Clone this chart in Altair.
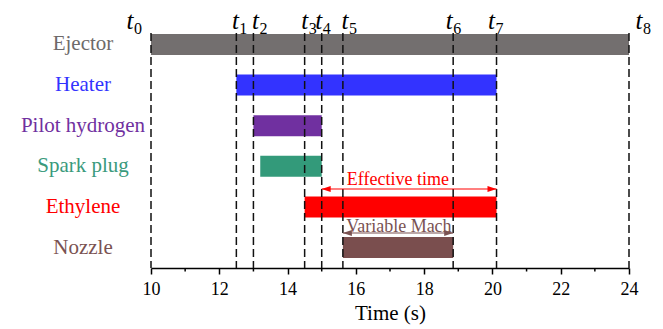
import altair as alt
import pandas as pd

# ---------------- data ----------------
categories = ["Ejector", "Heater", "Pilot hydrogen", "Spark plug", "Ethylene", "Nozzle"]
starts = [10.0, 12.5, 13.0, 13.2, 14.5, 15.62]
ends = [24.0, 20.12, 15.0, 15.0, 20.12, 18.85]
bar_colors = ["#736f6f", "#3333ff", "#7030a0", "#339a7a", "#ff0000", "#7a4e4e"]
label_colors = ["#6e6a6a", "#3333ff", "#7030a0", "#3a9a7c", "#ff0000", "#7a5252"]

t_subs = ["0", "1", "2", "3", "4", "5", "6", "7", "8"]
t_values = [10.0, 12.5, 13.0, 14.5, 15.0, 15.62, 18.85, 20.12, 24.0]

major_ticks = [10, 12, 14, 16, 18, 20, 22, 24]
minor_ticks = [11, 13, 15, 17, 19, 21, 23]

annot_labels = ["Effective time", "Variable Mach"]
annot_from = [15.0, 15.62]
annot_to = [20.12, 18.85]
annot_text_x = [17.23, 17.26]
annot_colors = ["#ff0000", "#7a5252"]

# ---------------- styles (pixels) ----------------
t_dx = [-21, -1, 2, 0, -3, 2, -4, -5, 10]
annot_text_y = [161, 208]
annot_arrow_y = [165, 209]
FONT = "Liberation Serif, Times New Roman, serif"

x_scale = alt.Scale(domain=[10, 24], nice=False, zero=False)
y_scale = alt.Scale(domain=categories, paddingInner=0.483, paddingOuter=0.246)
x_axis = alt.Axis(values=major_ticks, title="Time (s)", grid=False,
                  domainColor="black", domainWidth=1.5,
                  tickColor="black", tickWidth=1.5, tickSize=6,
                  labelFont=FONT, labelFontSize=18, labelColor="black",
                  labelPadding=6, labelFlush=False,
                  titleFont=FONT, titleFontSize=21, titleFontWeight="normal",
                  titleColor="black", titlePadding=4)


def X(field):
    return alt.X(field, scale=x_scale, axis=x_axis, title="Time (s)")


bars_df = pd.DataFrame({"cat": categories, "start": starts, "end": ends,
                        "bcol": bar_colors, "lcol": label_colors})

bars = alt.Chart(bars_df).mark_bar(opacity=1).encode(
    x=X("start:Q"),
    x2="end:Q",
    y=alt.Y("cat:N", scale=y_scale, axis=None, sort=categories),
    color=alt.Color("bcol:N", scale=None),
)

cat_labels = alt.Chart(bars_df).mark_text(
    font=FONT, fontSize=21, align="center", baseline="middle"
).encode(
    x=alt.value(-68),
    y=alt.Y("cat:N", scale=y_scale, axis=None, sort=categories),
    text="cat:N",
    color=alt.Color("lcol:N", scale=None),
)

t_df = pd.DataFrame({"x": t_values, "sub": t_subs})

vlines = alt.Chart(t_df).mark_rule(
    color="#111111", strokeWidth=1.5, strokeDash=[8, 4]
).encode(
    x=X("x:Q"),
    y=alt.value(9),
    y2=alt.value(244),
)

minor_df = pd.DataFrame({"x": minor_ticks})
minor = alt.Chart(minor_df).mark_rule(color="black", strokeWidth=1.5).encode(
    x=X("x:Q"),
    y=alt.value(244),
    y2=alt.value(247.5),
)

layers = [bars, vlines, minor, cat_labels]

for i in range(len(t_values)):
    row = t_df.iloc[[i]]
    layers.append(alt.Chart(row).mark_text(
        font=FONT, fontSize=25, fontStyle="italic", align="center",
        baseline="alphabetic", dx=t_dx[i], color="black"
    ).encode(x=X("x:Q"), y=alt.value(5), text=alt.value("t")))
    layers.append(alt.Chart(row).mark_text(
        font=FONT, fontSize=16, align="left", baseline="alphabetic",
        dx=t_dx[i] + 4, color="black"
    ).encode(x=X("x:Q"), y=alt.value(9.5), text="sub:N"))

left_head = "M0,0L1,-0.33L1,0.33Z"
right_head = "M0,0L-1,-0.33L-1,0.33Z"

for i in range(len(annot_labels)):
    a_df = pd.DataFrame({"x": [annot_from[i]], "x2": [annot_to[i]],
                         "tx": [annot_text_x[i]], "label": [annot_labels[i]]})
    col = annot_colors[i]
    ay = annot_arrow_y[i]
    layers.append(alt.Chart(a_df).mark_rule(color=col, strokeWidth=1.2).encode(
        x=X("x:Q"), x2="x2:Q", y=alt.value(ay)))
    layers.append(alt.Chart(a_df).mark_point(
        shape=left_head, filled=True, size=324, color=col, opacity=1, strokeWidth=0
    ).encode(x=X("x:Q"), y=alt.value(ay)))
    layers.append(alt.Chart(a_df).mark_point(
        shape=right_head, filled=True, size=324, color=col, opacity=1, strokeWidth=0
    ).encode(x=X("x2:Q"), y=alt.value(ay)))
    layers.append(alt.Chart(a_df).mark_text(
        font=FONT, fontSize=18, align="center", baseline="alphabetic", color=col
    ).encode(x=X("tx:Q"), y=alt.value(annot_text_y[i]), text="label:N"))

chart = alt.layer(*layers).properties(
    width=478, height=244,
    autosize=alt.AutoSizeParams(type="none"),
    padding={"left": 143, "top": 16, "right": 26, "bottom": 60},
    background="white",
).configure_view(stroke=None)

chart.save("out.html", embed_options={"renderer": "svg", "actions": False})
